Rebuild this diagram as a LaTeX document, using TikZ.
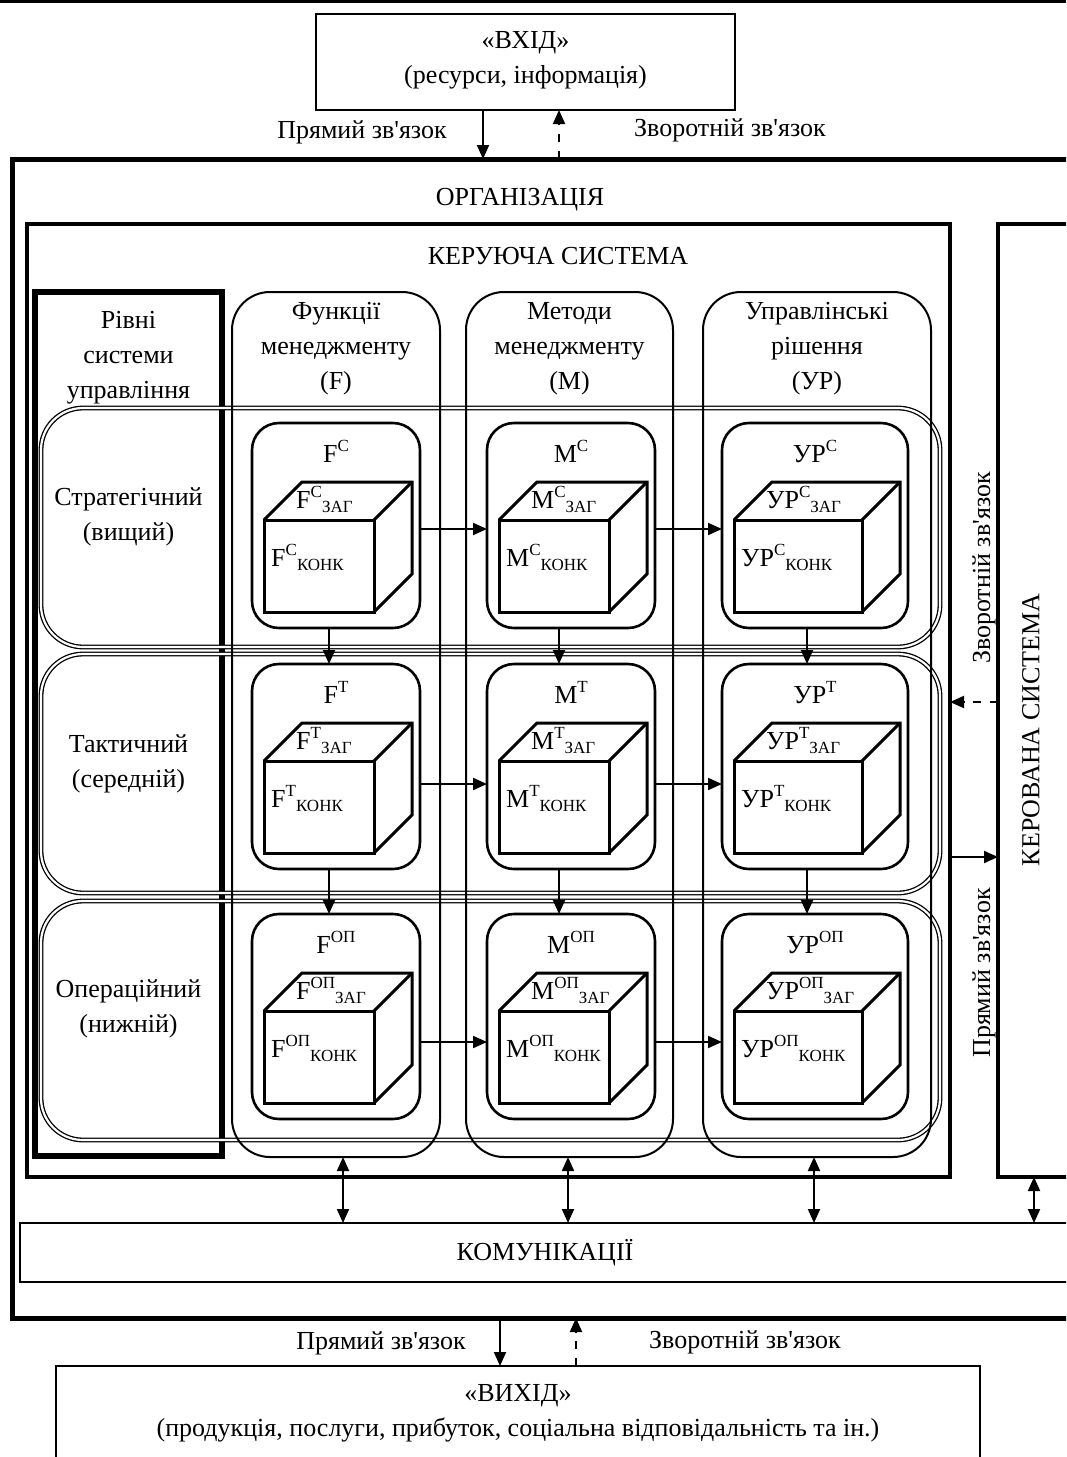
\documentclass[tikz,border=0pt]{standalone}
\usepackage{fontspec}
\setmainfont{Liberation Serif}[Ligatures=TeXOff]
\usetikzlibrary{arrows.meta,calc}
\newcommand\upidx[1]{\raisebox{11pt}{\fontsize{17}{17}\selectfont #1}}
\newcommand\loidx[1]{\raisebox{-4pt}{\fontsize{17}{17}\selectfont #1}}
\tikzset{
  plain/.style={draw, line width=1.3pt, inner sep=0pt, outer sep=0pt},
  frame/.style={draw, inner sep=0pt, outer sep=0pt},
  column/.style={draw, line width=2pt, rounded corners=38pt, inner sep=0pt, outer sep=0pt},
  level/.style={draw, double, double distance=2.2pt, line width=1.3pt, rounded corners=42pt, inner sep=0pt, outer sep=0pt},
  cell/.style={draw, line width=2.6pt, rounded corners=27pt, inner sep=0pt, outer sep=0pt},
  cubeedge/.style={line width=3pt},
  txt/.style={inner sep=0pt, align=center},
  arr/.style={line width=2pt, -{Triangle[length=14pt,width=12pt]}},
  biarr/.style={line width=2pt, {Triangle[length=14pt,width=12pt]}-{Triangle[length=14pt,width=12pt]}},
  backarr/.style={arr, dash pattern=on 8pt off 9pt},
}
\begin{document}
\fontsize{26}{35}\selectfont
\begin{tikzpicture}[x=1pt, y=-1pt]
\useasboundingbox (0,0) rectangle (1066,1457);
\clip (0,0) rectangle (1066,1457);
\draw[line width=3pt] (0,1) -- (1066,1);

% input / output
\node[plain, minimum width=419pt, minimum height=96pt] (vhid) at (525.5,62) {};
\node[txt] (vhidt) at (525.5,60) {«ВХІД»\\(ресурси, інформація)};
\node[plain, minimum width=924pt, minimum height=120pt] (vyhid) at (518,1426) {};
\node[txt] (vyhidt) at (518,1413) {«ВИХІД»\\(продукція, послуги, прибуток, соціальна відповідальність та ін.)};

% organisation
\node[frame, line width=5pt, minimum width=1078pt, minimum height=1159pt] (org) at (551,738.5) {};
\node[txt, anchor=base] (orgt) at (520,205) {ОРГАНІЗАЦІЯ};
\node[plain, minimum width=1050pt, minimum height=59pt] (kom) at (545,1252.5) {КОМУНІКАЦІЇ};
\node[frame, line width=4pt, minimum width=923pt, minimum height=953pt] (ctrl) at (488.5,700.5) {};
\node[txt, anchor=base] (ctrlt) at (558,264) {КЕРУЮЧА СИСТЕМА};
\node[frame, line width=3.5pt, minimum width=82pt, minimum height=953pt] (obj) at (1039,700.5) {};
\node[txt, rotate=90] (objt) at (1031,730) {КЕРОВАНА СИСТЕМА};

% levels
\node[frame, line width=6pt, minimum width=187pt, minimum height=864pt] (lev) at (128.5,724) {};
\node[txt] (levt) at (128.5,358) {Рівні\\системи\\управління};
\node[level, minimum width=899pt, minimum height=239pt] (row1) at (490.5,527.5) {};
\node[level, minimum width=899pt, minimum height=239pt] (row2) at (490.5,773.5) {};
\node[level, minimum width=899pt, minimum height=239pt] (row3) at (490.5,1020.5) {};
\node[txt] (row1t) at (128.5,517) {Стратегічний\\(вищий)};
\node[txt] (row2t) at (128.5,764) {Тактичний\\(середній)};
\node[txt] (row3t) at (128.5,1009) {Операційний\\(нижній)};

% columns
\node[column, minimum width=208pt, minimum height=865pt] (colF) at (336,724.5) {};
\node[column, minimum width=207pt, minimum height=865pt] (colM) at (569.5,724.5) {};
\node[column, minimum width=228pt, minimum height=865pt] (colU) at (817,724.5) {};
\node[txt] (colFt) at (336,349) {Функції\\менеджменту\\(F)};
\node[txt] (colMt) at (569.5,349) {Методи\\менеджменту\\(M)};
\node[txt] (colUt) at (817,349) {Управлінські\\рішення\\(УР)};

% cells with cubes
\foreach \c/\x/\w/\nm in {F/336/168/F, M/571/168/M, U/815/186/УР}
  \foreach \r/\y/\s in {1/525.5/С, 2/766.5/Т, 3/1016.5/ОП} {
    \node[cell, minimum width=\w pt, minimum height=205pt] (\c\r) at (\x,\y) {};
    \node[txt, anchor=base] (t\c\r) at ($(\c\r.north)+(0,39)$) {\nm\upidx{\s}};
    \coordinate (f\c\r) at ($(\c\r.north west)+(12,97)$);
    \draw[cubeedge] (f\c\r) rectangle ++({\w-58},92);
    \draw[cubeedge] (f\c\r) -- ++(38,-38) -- ++({\w-58},0) -- ++(0,92) -- ++(-38,38);
    \draw[cubeedge] ($(f\c\r)+({\w-58},0)$) -- ++(38,-38);
    \node[txt, anchor=base west] (z\c\r) at ($(f\c\r)+(32,-12)$) {\nm\upidx{\s}\loidx{ЗАГ}};
    \node[txt, anchor=base west] (k\c\r) at ($(f\c\r)+(7,46)$) {\nm\upidx{\s}\loidx{КОНК}};
  }

\foreach \c/\s in {F/-7, M/-12, U/-8} {
  \draw[arr] ([xshift=\s pt]\c1.south) -- ([xshift=\s pt]\c2.north);
  \draw[arr] ([xshift=\s pt]\c2.south) -- ([xshift=\s pt]\c3.north);
}
\foreach \r/\s in {1/-3.5, 2/-17.5, 3/-25.5} {
  \draw[arr] ([yshift=\s pt]F\r.east) -- ([yshift=\s pt]M\r.west);
  \draw[arr] ([yshift=\s pt]M\r.east) -- ([yshift=\s pt]U\r.west);
}

% links
\draw[arr] ([xshift=-42.5pt]vhid.south) -- ([xshift=-42.5pt]vhid.south |- org.north);
\draw[backarr] ([xshift=33.5pt]vhid.south |- org.north) -- ([xshift=33.5pt]vhid.south);
\node[txt] (dir1) at (362,132) {Прямий зв'язок};
\node[txt] (fb1) at (730,130) {Зворотній зв'язок};
\draw[arr] ([xshift=-18pt]vyhid.north |- org.south) -- ([xshift=-18pt]vyhid.north);
\draw[backarr] ([xshift=58pt]vyhid.north) -- ([xshift=58pt]vyhid.north |- org.south);
\node[txt] (dir2) at (381,1343) {Прямий зв'язок};
\node[txt] (fb2) at (745,1342) {Зворотній зв'язок};
\draw[backarr] ([yshift=-1.5pt]obj.west) -- ([yshift=-1.5pt]obj.west -| ctrl.east);
\draw[arr] ([yshift=-156.5pt]obj.west -| ctrl.east) -- ([yshift=-156.5pt]obj.west);
\node[txt, rotate=90] (fb3) at (984,568) {Зворотній зв'язок};
\node[txt, rotate=90] (dir3) at (984,973) {Прямий зв'язок};
\draw[biarr] ([xshift=7pt]colF.south) -- ([xshift=7pt]colF.south |- kom.north);
\draw[biarr] ([xshift=-1.5pt]colM.south) -- ([xshift=-1.5pt]colM.south |- kom.north);
\draw[biarr] ([xshift=-3pt]colU.south) -- ([xshift=-3pt]colU.south |- kom.north);
\draw[biarr] ([xshift=-5pt]obj.south) -- ([xshift=-5pt]obj.south |- kom.north);
\end{tikzpicture}
\end{document}
